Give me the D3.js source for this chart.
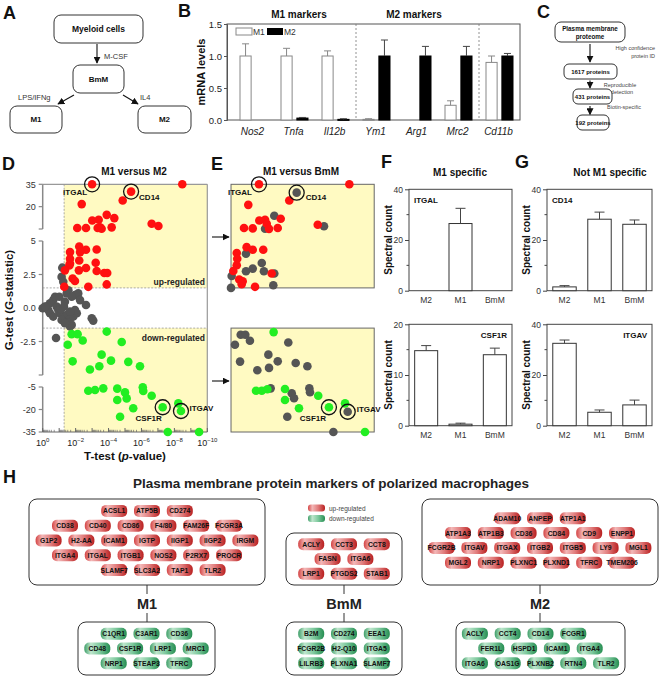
<!DOCTYPE html>
<html>
<head>
<meta charset="utf-8">
<script src="https://cdn.jsdelivr.net/npm/d3@7"></script>
<style>
  body { margin: 0; background: #fff; }
  svg { display: block; font-family: "Liberation Sans", Arial, sans-serif; }
</style>
</head>
<body>
<svg id="fig" width="662" height="678"></svg>
<script>
// ---------- data ----------
// B: qPCR of marker genes
const bGenes = ['Nos2', 'Tnfa', 'Il12b', 'Ym1', 'Arg1', 'Mrc2', 'Cd11b'];
const bM1 = [1.0, 1.0, 1.0, 0.01, 0, 0.23, 0.9];
const bM1Err = [0.19, 0.12, 0.08, 0.01, 0, 0.07, 0.1];
const bM2 = [0, 0.03, 0.01, 1.0, 1.0, 1.0, 1.0];
const bM2Err = [0, 0.01, 0.01, 0.25, 0.15, 0.15, 0.04];

// D / E: [ -log10(p), G ]
const dUp = [[8.48,35],[4.86,24.1],[2.37,21.7],[3.89,14.5],[4.35,12.3],[3.4,11.2],[3.01,10.7],[6.62,8.5],[7.03,7.0],
  [2.1,5.7],[2.63,5.7],[4.19,6.1],[3.48,6.1],[3.34,5.7],[3.58,5.2],[2.22,4.59],[1.66,4.17],[2.63,4.35],[3.28,4.37],
  [2.27,4.17],[1.66,3.68],[1.66,3.31],[3.22,3.38],[2.22,3.55],[1.62,3.18],[2.63,2.99],[2.2,2.81],[3.28,2.76],
  [1.35,2.81],[3.74,2.61],[3.92,2.61],[1.82,2.2],[1.96,2.02],[1.31,1.58],[2.77,1.58],[3.89,1.76]];
const dNs = [[1.19,3.01],[1.15,2.32],[1.25,1.95],[1.56,1.33],[1.96,0.96],[2.16,1.09],[0,-0.02],[0.24,0.1],[0.44,0.35],
  [0.64,0.59],[0.75,0.84],[0.85,0.1],[0.95,-0.15],[1.05,-0.39],[1.25,-0.64],[1.46,-0.52],[1.66,-0.76],[1.86,-0.64],
  [2.07,-0.39],[2.27,0.59],[2.63,0.22],[2.98,-0.76],[3.07,-0.94],[1.56,-1.13],[1.76,-1.26],[1.66,-1.38],[0.81,-2.24],
  [1.01,0.84],[1.35,0.47],[1.46,1.09],[1.76,0.84],[1.11,-0.1],[1.29,0.1],[0.44,-0.39],[0.64,-0.64],[1.15,-0.89],
  [1.35,-1.13],[1.96,-0.15],[1.66,-0.27],[0.34,-0.15],[0.14,0.1]];
const dDown = [[1.76,-1.95],[2.12,-1.95],[2.43,-2.42],[1.52,-2.74],[3.89,-1.76],[4.8,-2.54],[3.58,-3.48],[1.82,-3.98],
  [4.15,-3.93],[3.44,-4.35],[2.87,-4.59],[5.2,-4.02],[5.91,-4.35],[2.77,-7.5],[3.18,-7.0],[3.68,-5.9],[4.53,-6.1],
  [5.0,-8.6],[6.08,-5.2],[6.11,-7.7],[6.62,-10.8],[5.1,-12.6],[4.53,-13.7],[5.5,-19.2],[8.24,-15.9],[4.7,-24.8],
  [7.6,-35],[9.5,-35]];
const dMarked = [
  { name: 'ITGAL', lp: 3.0, g: 35, cls: 'up' },
  { name: 'CD14', lp: 5.37, g: 30.1, cls: 'up' },
  { name: 'CSF1R', lp: 7.29, g: -18.5, cls: 'down' },
  { name: 'ITGAV', lp: 8.4, g: -21, cls: 'down' }
];

const eUp = [[8.49,35],[4.84,24.1],[2.35,21.2],[4.32,11.9],[3.02,10.7],[3.37,11.2],[3.47,8.5],[2.09,5.7],[2.62,5.4],
  [3.61,5.1],[4.14,5.7],[6.57,7.9],[2.25,4.54],[2.62,4.35],[3.26,4.35],[1.65,4.1],[1.68,3.68],[1.65,3.19],
  [1.44,2.76],[3.77,2.57],[1.8,2.13],[2.01,2.0],[1.95,1.78],[2.76,1.58]];
const eNs = [[3.93,13.9],[3.37,5.2],[6.95,6.8],[2.21,4.05],[3.17,3.36],[2.62,2.94],[2.21,2.74],[1.34,2.39],[3.3,2.74],
  [3.93,2.57],[1.3,1.5],[3.87,1.7],[1.89,-2.0],[2.17,-2.0],[1.54,-2.74],[2.45,-2.44],[4.78,-2.57],[1.85,-4.0],
  [3.57,-3.48],[4.14,-3.98],[2.9,-4.64],[3.61,-4.47],[5.23,-4.1],[5.94,-4.35],[3.71,-5.9],[4.99,-9.2],[5.13,-12.5],
  [6.06,-5.9],[6.1,-8.5],[4.72,-24.8],[7.52,-35]];
const eDown = [[3.89,-1.8],[2.82,-7.5],[3.17,-7.5],[3.51,-6.5],[4.58,-6.3],[4.58,-13.7],[6.6,-10.8],[5.43,-19.2],
  [8.23,-15.9],[9.44,-35]];
const eMarked = [
  { name: 'ITGAL', lp: 3.0, g: 35, cls: 'up' },
  { name: 'CD14', lp: 5.29, g: 29.4, cls: 'ns' },
  { name: 'CSF1R', lp: 7.25, g: -18.5, cls: 'down' },
  { name: 'ITGAV', lp: 8.39, g: -21.5, cls: 'ns' }
];

// D axis ticks
const dYTicks = [
  { v: 35, seg: 'top', label: '35' }, { v: 20, seg: 'top', label: '20' }, { v: 5, seg: 'top', label: '' },
  { v: 5, seg: 'mid', label: '5' }, { v: 2.5, seg: 'mid', label: '2.5' }, { v: 0, seg: 'mid', label: '0.0' },
  { v: -2.5, seg: 'mid', label: '-2.5' }, { v: -5, seg: 'mid', label: '' },
  { v: -5, seg: 'bot', label: '-5' }, { v: -20, seg: 'bot', label: '-20' }, { v: -35, seg: 'bot', label: '-35' }
];
const dXExp = [0, -2, -4, -6, -8, -10];

// F / G: spectral counts
const fgCats = ['M2', 'M1', 'BmM'];
const itgal = [0, 26.5, 0], itgalErr = [0, 6, 0];
const csf1r = [14.8, 0.3, 14.0], csf1rErr = [1.0, 0.2, 1.3];
const cd14 = [1.5, 28.2, 26.2], cd14Err = [0.5, 2.8, 1.7];
const itgav = [32.5, 5.3, 8.2], itgavErr = [1.3, 0.9, 1.9];

// H: marker chips per row
const hM1Up = [['ACSL1','ATP5B','CD274'],['CD38','CD40','CD86','F4/80','FAM26F','FCGR3A'],
  ['G1P2','H2-AA','ICAM1','IGTP','IIGP1','IIGP2','IRGM'],['ITGA4','ITGAL','ITGB1','NOS2','P2RX7','PROCR'],
  ['SLAMF7','SLC3A2','TAP1','TLR2']];
const hM1Down = [['C1QR1','C3AR1','CD36'],['CD48','CSF1R','LRP1','MRC1'],['NRP1','STEAP3','TFRC']];
const hBmMUp = [['ACLY','CCT3','CCT8'],['FASN','ITGA6'],['LRP1','PTGDS2','STAB1']];
const hBmMDown = [['B2M','CD274','EEA1'],['FCGR2B','H2-Q10','ITGA5'],['LILRB3','PLXNA1','SLAMF7']];
const hM2Up = [['ADAM10','ANPEP','ATP1A1'],['ATP1A3','ATP1B3','CD36','CD84','CD9','ENPP1'],
  ['FCGR2B','ITGAV','ITGAX','ITGB2','ITGB5','LY9','MGL1'],['MGL2','NRP1','PLXNC1','PLXND1','TFRC','TMEM206']];
const hM2Down = [['ACLY','CCT4','CD14','FCGR1'],['FER1L','HSPD1','ICAM1','ITGA4'],['ITGA6','OAS1G','PLXNB2','RTN4','TLR2']];

// ---------- drawing ----------
const svg = d3.select('#fig');
const defs = svg.append('defs');
defs.append('marker').attr('id', 'arr').attr('viewBox', '0 0 10 10')
  .attr('refX', 9).attr('refY', 5).attr('markerWidth', 7).attr('markerHeight', 7)
  .attr('markerUnits', 'userSpaceOnUse').attr('orient', 'auto')
  .append('path').attr('d', 'M0,0L10,5L0,10z').attr('fill', '#111');

function grad(id, stops) {
  const lg = defs.append('linearGradient').attr('id', id).attr('x1', 0).attr('x2', 1).attr('y1', 0).attr('y2', 0);
  stops.forEach(s => lg.append('stop').attr('offset', s[0]).attr('stop-color', s[1]));
}
grad('gUp', [[0, '#d44444'], [0.25, '#f3b8b8'], [0.6, '#e07a7a'], [1, '#b92020']]);
grad('gDown', [[0, '#3f9f69'], [0.25, '#bfe6cd'], [0.6, '#7cc89c'], [1, '#268e52']]);

const colors = { up: '#ff1010', ns: '#555555', down: '#22ee22' };

function txt(x, y, s, o = {}) {
  const t = svg.append('text').attr('x', x).attr('y', y).text(s)
    .attr('font-size', o.size || 9).attr('fill', o.fill || '#111')
    .attr('text-anchor', o.anchor || 'start');
  if (o.bold) t.attr('font-weight', 'bold');
  if (o.italic) t.attr('font-style', 'italic');
  if (o.rotate) t.attr('transform', `rotate(-90,${x},${y})`);
  return t;
}
function line(x1, y1, x2, y2, stroke = '#111', w = 1, dash = null) {
  const l = svg.append('line').attr('x1', x1).attr('y1', y1).attr('x2', x2).attr('y2', y2)
    .attr('stroke', stroke).attr('stroke-width', w);
  if (dash) l.attr('stroke-dasharray', dash);
  return l;
}
function arrow(x1, y1, x2, y2) {
  return line(x1, y1, x2, y2, '#111', 1.1).attr('marker-end', 'url(#arr)');
}
function rbox(x, y, w, h, rx, stroke = '#333') {
  return svg.append('rect').attr('x', x).attr('y', y).attr('width', w).attr('height', h)
    .attr('rx', rx).attr('fill', '#fff').attr('stroke', stroke).attr('stroke-width', 1);
}

// panel letters
[['A', 3, 19], ['B', 178, 17], ['C', 537, 18], ['D', 2, 170], ['E', 211, 170], ['F', 381, 168], ['G', 515, 168], ['H', 3, 483]]
  .forEach(d => txt(d[1], d[2], d[0], { size: 18, bold: true }));

// ---- A ----
rbox(54, 15, 89, 28, 7); txt(98.5, 32, 'Myeloid cells', { size: 8.5, bold: true, anchor: 'middle' });
arrow(97, 44, 97, 63); txt(104, 59, 'M-CSF', { size: 7.5, fill: '#333' });
rbox(73, 65, 51, 28, 7); txt(98.5, 82, 'BmM', { size: 8, bold: true, anchor: 'middle' });
arrow(74, 95, 58, 104); txt(18, 100, 'LPS/IFNg', { size: 7.5, fill: '#333' });
arrow(123, 95, 138, 104); txt(140, 100, 'IL4', { size: 7.5, fill: '#333' });
rbox(10, 106, 52, 27, 7); txt(36, 122, 'M1', { size: 8, bold: true, anchor: 'middle' });
rbox(138, 106, 53, 27, 7); txt(164.5, 122, 'M2', { size: 8, bold: true, anchor: 'middle' });

// ---- B ----
(function () {
  const x = d3.scaleBand().domain(bGenes).range([233, 520]);
  const sub = d3.scaleBand().domain(['M1', 'M2']).range([-13.5, 13.5]).paddingInner(0.3);
  const y = d3.scaleLinear().domain([0, 1.5]).range([120, 24]);
  const g = svg.append('g');
  g.append('rect').attr('x', 227).attr('y', 24).attr('width', 293).attr('height', 96)
    .attr('fill', 'none').attr('stroke', '#555');
  const ax = g.append('g').attr('transform', 'translate(227,0)')
    .call(d3.axisLeft(y).tickValues([0, 0.5, 1, 1.5]).tickFormat(d3.format('.1f')).tickSize(3).tickPadding(2));
  ax.attr('font-family', null).attr('font-size', 9.5);
  ax.select('.domain').attr('stroke', '#555');
  ax.selectAll('line').attr('stroke', '#555');
  ax.selectAll('text').attr('fill', '#222');
  [x('Ym1'), x('Cd11b')].forEach(v => line(v, 24, v, 120, '#777', 0.8, '2,2'));
  const series = [
    { key: 'M1', vals: bM1, errs: bM1Err, fill: '#fff', stroke: '#888', err: '#888' },
    { key: 'M2', vals: bM2, errs: bM2Err, fill: '#000', stroke: '#000', err: '#444' }
  ];
  series.forEach(s => {
    bGenes.forEach((gene, i) => {
      const v = s.vals[i];
      if (v <= 0) return;
      const bx = x(gene) + x.bandwidth() / 2 + sub(s.key);
      const cx = bx + sub.bandwidth() / 2;
      if (s.errs[i] > 0) {
        line(cx, y(v), cx, y(v + s.errs[i]), s.err, 1);
        line(cx - 3.5, y(v + s.errs[i]), cx + 3.5, y(v + s.errs[i]), s.err, 1);
      }
      g.append('rect').attr('x', bx).attr('y', y(v)).attr('width', sub.bandwidth())
        .attr('height', Math.max(1, y(0) - y(v))).attr('fill', s.fill).attr('stroke', s.stroke).attr('stroke-width', 1);
    });
  });
  bGenes.forEach(gene => txt(x(gene) + x.bandwidth() / 2 - 1, 135, gene, { size: 10, italic: true, anchor: 'middle', fill: '#222' }));
  txt(299, 18, 'M1 markers', { size: 10, bold: true, anchor: 'middle' });
  txt(414, 18, 'M2 markers', { size: 10, bold: true, anchor: 'middle' });
  txt(205, 72, 'mRNA levels', { size: 11, bold: true, anchor: 'middle', rotate: true });
  g.append('rect').attr('x', 236).attr('y', 28).attr('width', 16).attr('height', 7).attr('fill', '#fff').attr('stroke', '#888');
  txt(253, 35, 'M1', { size: 8.5, fill: '#333' });
  g.append('rect').attr('x', 267).attr('y', 28).attr('width', 16).attr('height', 7).attr('fill', '#000');
  txt(284, 35, 'M2', { size: 8.5, fill: '#333' });
})();

// ---- C ----
rbox(555, 22, 70, 20, 6);
txt(590, 30.5, 'Plasma membrane', { size: 6.3, bold: true, anchor: 'middle' });
txt(590, 38.5, 'proteome', { size: 6.3, bold: true, anchor: 'middle' });
arrow(590, 44, 590, 62);
txt(655, 50, 'High confidence', { size: 5.5, fill: '#444', anchor: 'end' });
txt(655, 57.5, 'protein ID', { size: 5.5, fill: '#444', anchor: 'end' });
rbox(564, 64, 53, 15, 5); txt(590.5, 74, '1617 proteins', { size: 6, bold: true, anchor: 'middle' });
arrow(590, 80.5, 590, 88);
txt(620, 86.5, 'Reproducible', { size: 5.5, fill: '#444', anchor: 'middle' });
txt(622, 94, 'detection', { size: 5.5, fill: '#444', anchor: 'middle' });
rbox(573, 89, 39, 15, 5); txt(592.5, 99, '431 proteins', { size: 6, bold: true, anchor: 'middle' });
arrow(590, 106, 590, 114.5);
txt(607, 109, 'Biotin-specific', { size: 5.5, fill: '#444' });
rbox(577, 115, 32, 15, 5); txt(593, 125, '192 proteins', { size: 6, bold: true, anchor: 'middle' });

// ---- D / E shared scales ----
const gTop = d3.scaleLinear().domain([5, 35]).range([229, 184.3]);
const gMid = d3.scaleLinear().domain([-5, 5]).range([375, 241]);
const gBot = d3.scaleLinear().domain([-35, -5]).range([432, 387]);
const yG = v => v > 5 ? gTop(v) : v < -5 ? gBot(v) : gMid(v);
const segScale = { top: gTop, mid: gMid, bot: gBot };
const sig = -Math.log10(0.05);
const dX = d3.scaleLinear().domain([0, 10]).range([42.7, 207.3]);
const eX = d3.scaleLinear().domain([0, 10]).range([209.6, 374.2]);
const YELLOW = '#fffac2';

function dots(x, pts, cls) {
  svg.append('g').selectAll('circle').data(pts).join('circle')
    .attr('cx', d => x(d[0])).attr('cy', d => yG(d[1])).attr('r', 4.3).attr('fill', colors[cls]);
}
function marked(x, list, offs) {
  list.forEach(m => {
    const cx = x(m.lp), cy = yG(m.g);
    svg.append('circle').attr('cx', cx).attr('cy', cy).attr('r', 4.3).attr('fill', colors[m.cls]);
    svg.append('circle').attr('cx', cx).attr('cy', cy).attr('r', 7.5).attr('fill', 'none')
      .attr('stroke', '#111').attr('stroke-width', 1.3);
    const o = offs[m.name];
    txt(cx + o[0], cy + o[1], m.name, { size: 8, bold: true, anchor: o[2] });
  });
}

// ---- D ----
(function () {
  const x0 = dX(0), x1 = dX(10), xs = dX(sig);
  svg.append('rect').attr('x', xs).attr('y', yG(35)).attr('width', x1 - xs).attr('height', yG(1.5) - yG(35)).attr('fill', YELLOW);
  svg.append('rect').attr('x', xs).attr('y', yG(-1.5)).attr('width', x1 - xs).attr('height', yG(-35) - yG(-1.5)).attr('fill', YELLOW);
  line(xs, yG(35), xs, yG(-35), '#888', 0.7, '2,1.5');
  line(x0, yG(1.5), x1, yG(1.5), '#888', 0.7, '2,1.5');
  line(x0, yG(-1.5), x1, yG(-1.5), '#888', 0.7, '2,1.5');
  line(x0, yG(35), x1, yG(35), '#999', 1.2);
  line(x1, yG(35), x1, yG(-35), '#999', 1.2);
  // broken y axis
  [['top', 35, 5], ['mid', 5, -5], ['bot', -5, -35]].forEach(s =>
    line(x0, segScale[s[0]](s[1]), x0, segScale[s[0]](s[2]), '#888', 1.5));
  dYTicks.forEach(t => {
    const yy = segScale[t.seg](t.v);
    line(x0 - 4, yy, x0, yy, '#888', 1.2);
    if (t.label) txt(x0 - 7, yy + 3.2, t.label, { size: 9, fill: '#333', anchor: 'end' });
  });
  // log x axis
  const yb = yG(-35);
  line(x0, yb, x1, yb, '#666', 1);
  for (let k = 0; k <= 10; k++) {
    line(dX(k), yb, dX(k), yb - 4, '#666', 1);
    if (k < 10) for (let m = 2; m <= 9; m++) {
      const v = k + 1 - Math.log10(m);
      line(dX(v), yb, dX(v), yb - 2.2, '#666', 0.7);
    }
  }
  dXExp.forEach(e => {
    const t = txt(dX(-e), yb + 14, '10', { size: 9, fill: '#222', anchor: 'middle' });
    t.append('tspan').attr('dy', -4).attr('font-size', 6).text(e === 0 ? '0' : '\u2212' + (-e));
  });
  const xl = txt(125, 460, 'T-test (', { size: 11.5, bold: true, anchor: 'middle' });
  xl.append('tspan').attr('font-style', 'italic').text('p');
  xl.append('tspan').text('-value)');
  const yl = txt(13, 300, 'G-test (', { size: 11.5, bold: true, anchor: 'middle', rotate: true });
  yl.append('tspan').attr('font-style', 'italic').text('G');
  yl.append('tspan').text('-statistic)');
  txt(134, 175, 'M1 versus M2', { size: 10, bold: true, anchor: 'middle' });
  txt(205, 285, 'up-regulated', { size: 8.5, bold: true, anchor: 'end', fill: '#222' });
  txt(205, 341, 'down-regulated', { size: 8.5, bold: true, anchor: 'end', fill: '#222' });
  dots(dX, dNs, 'ns'); dots(dX, dUp, 'up'); dots(dX, dDown, 'down');
  marked(dX, dMarked, {
    ITGAL: [-5, 11, 'end'], CD14: [8, 8, 'start'], CSF1R: [-14, 14, 'middle'], ITGAV: [8.5, 0, 'start']
  });
})();

// ---- E ----
(function () {
  const xs = eX(sig), x1 = eX(10);
  [[35, 1.5], [-1.5, -35]].forEach(r =>
    svg.append('rect').attr('x', xs).attr('y', yG(r[0])).attr('width', x1 - xs).attr('height', yG(r[1]) - yG(r[0]))
      .attr('fill', YELLOW).attr('stroke', '#666').attr('stroke-width', 1));
  arrow(212, 237, 229, 237);
  arrow(212, 381, 229, 381);
  txt(301, 175, 'M1 versus BmM', { size: 10, bold: true, anchor: 'middle' });
  dots(eX, eNs, 'ns'); dots(eX, eUp, 'up'); dots(eX, eDown, 'down');
  marked(eX, eMarked, {
    ITGAL: [-7, 11, 'end'], CD14: [9, 7, 'start'], CSF1R: [-16, 14, 'middle'], ITGAV: [9, 0, 'start']
  });
})();

// ---- F / G ----
function barPanel(x0, x1, yT, yB, max, ticks, minor, vals, errs, name, right) {
  const g = svg.append('g');
  const x = d3.scaleBand().domain(fgCats).range([x0, x1]).paddingInner(0.33).paddingOuter(0.165);
  const y = d3.scaleLinear().domain([0, max]).range([yB, yT]);
  g.append('rect').attr('x', x0).attr('y', yT).attr('width', x1 - x0).attr('height', yB - yT)
    .attr('fill', 'none').attr('stroke', '#444');
  const ax = g.append('g').attr('transform', `translate(${x0},0)`)
    .call(d3.axisLeft(y).tickValues(ticks).tickFormat(d3.format('d')).tickSize(4).tickPadding(2));
  ax.attr('font-family', null).attr('font-size', 8.5);
  ax.select('.domain').remove();
  ax.selectAll('line').attr('stroke', '#444');
  ax.selectAll('text').attr('fill', '#333');
  minor.forEach(v => line(x0 - 2.5, y(v), x0, y(v), '#444', 1));
  fgCats.forEach((c, i) => {
    const v = vals[i], cx = x(c) + x.bandwidth() / 2;
    if (v > 0) {
      const top = y(v + errs[i]);
      line(cx, y(v), cx, top, '#444', 1);
      line(cx - 5, top, cx + 5, top, '#444', 1);
      g.append('rect').attr('x', x(c)).attr('y', y(v)).attr('width', x.bandwidth())
        .attr('height', Math.max(1, y(0) - y(v))).attr('fill', '#fff').attr('stroke', '#333');
    }
    txt(cx, yB + 12, c, { size: 8.5, fill: '#333', anchor: 'middle' });
  });
  txt(right ? x1 - 5 : x0 + 5, yT + 14, name, { size: 8, bold: true, anchor: right ? 'end' : 'start' });
  txt(x0 - 17, (yT + yB) / 2, 'Spectral count', { size: 10, bold: true, anchor: 'middle', rotate: true });
}
txt(460, 176, 'M1 specific', { size: 10, bold: true, anchor: 'middle' });
txt(610, 176, 'Not M1 specific', { size: 10, bold: true, anchor: 'middle' });
barPanel(409, 512, 189.3, 290.7, 40, [0, 20, 40], [10, 30], itgal, itgalErr, 'ITGAL', false);
barPanel(409, 512, 324.3, 425.7, 20, [0, 10, 20], [5, 15], csf1r, csf1rErr, 'CSF1R', true);
barPanel(547, 652, 189.3, 290.7, 40, [0, 20, 40], [10, 30], cd14, cd14Err, 'CD14', false);
barPanel(547, 652, 324.3, 425.7, 40, [0, 20, 40], [10, 30], itgav, itgavErr, 'ITGAV', true);

// ---- H ----
txt(331, 488, 'Plasma membrane protein markers of polarized macrophages', { size: 13.5, bold: true, anchor: 'middle', fill: '#222' });
const CHIP_W = 26, CHIP_H = 12, PITCH_X = 32.8, PITCH_Y = 14.8;
function chipBox(bx, by, bw, bh, rows, kind, shifts = {}) {
  rbox(bx, by, bw, bh, 8);
  const cx = bx + bw / 2, cy = by + bh / 2 - (kind === 'up' && rows.length > 3 ? 1.5 : 0);
  rows.forEach((row, r) => {
    const ry = cy + (r - (rows.length - 1) / 2) * PITCH_Y;
    row.forEach((name, i) => {
      const px = cx + (i - (row.length - 1) / 2 + (shifts[r] || 0)) * PITCH_X;
      svg.append('rect').attr('x', px - CHIP_W / 2).attr('y', ry - CHIP_H / 2).attr('width', CHIP_W).attr('height', CHIP_H)
        .attr('rx', 5).attr('fill', `url(#${kind === 'up' ? 'gUp' : 'gDown'})`);
      txt(px, ry + 2.4, name, { size: 6.8, bold: true, anchor: 'middle' });
    });
  });
}
chipBox(29, 499, 236, 86, hM1Up, 'up', { 4: 0.5 });
chipBox(78, 622, 137, 53, hM1Down, 'down');
chipBox(286, 533, 116, 52, hBmMUp, 'up');
chipBox(286, 622, 116, 53, hBmMDown, 'down');
chipBox(422, 499, 236, 86, hM2Up, 'up');
chipBox(456, 622, 169, 53, hM2Down, 'down', { 0: -0.5 });
[['M1', 147, 585], ['BmM', 344, 585], ['M2', 540, 585]].forEach(d => {
  line(d[1], d[2], d[1], d[2] + 9, '#333', 1);
  line(d[1], 613, d[1], 622, '#333', 1);
  txt(d[1], 608.5, d[0], { size: 14.5, bold: true, anchor: 'middle', fill: '#222' });
});
svg.append('rect').attr('x', 308).attr('y', 504.5).attr('width', 17).attr('height', 7).attr('rx', 3).attr('fill', 'url(#gUp)');
svg.append('rect').attr('x', 308).attr('y', 515).attr('width', 17).attr('height', 7).attr('rx', 3).attr('fill', 'url(#gDown)');
txt(329, 510.5, 'up-regulated', { size: 6.5, fill: '#444' });
txt(329, 521, 'down-regulated', { size: 6.5, fill: '#444' });
</script>
</body>
</html>
